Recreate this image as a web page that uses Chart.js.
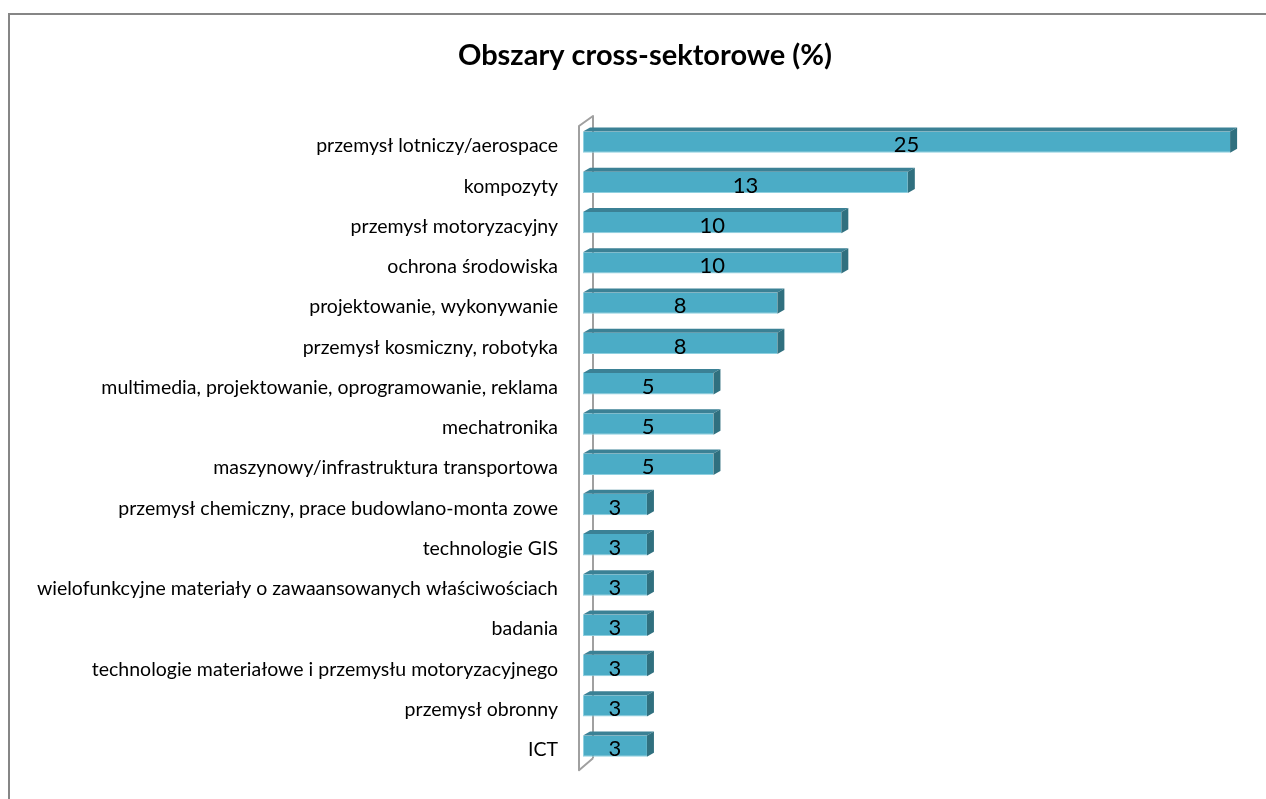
<!DOCTYPE html>
<html>
<head>
<meta charset="utf-8">
<title>Obszary cross-sektorowe</title>
<script src="https://cdn.jsdelivr.net/npm/chart.js@4.4.1/dist/chart.umd.min.js"></script>
<style>
  html, body { margin: 0; padding: 0; background: #ffffff; }
  #wrap { width: 1266px; height: 799px; }
</style>
</head>
<body>
<div id="wrap"><canvas id="chart" width="1266" height="799"></canvas></div>
<script>
// categories, top to bottom
const categories = [
  'przemysł lotniczy/aerospace',
  'kompozyty',
  'przemysł motoryzacyjny',
  'ochrona środowiska',
  'projektowanie, wykonywanie',
  'przemysł kosmiczny, robotyka',
  'multimedia, projektowanie, oprogramowanie, reklama',
  'mechatronika',
  'maszynowy/infrastruktura transportowa',
  'przemysł chemiczny, prace budowlano-monta zowe',
  'technologie GIS',
  'wielofunkcyjne materiały o zawaansowanych właściwościach',
  'badania',
  'technologie materiałowe i przemysłu motoryzacyjnego',
  'przemysł obronny',
  'ICT'
];

// share of answers in %, labels show them rounded
const shares = [25.3, 12.7, 10.1, 10.1, 7.6, 7.6, 5.1, 5.1, 5.1, 2.5, 2.5, 2.5, 2.5, 2.5, 2.5, 2.5];

const TITLE = 'Obszary cross-sektorowe (%)';
const FONT = "Lato, 'Open Sans', 'DejaVu Sans', sans-serif";
const FRONT = '#4bacc6';
const TOP = '#3b8195';
const SIDE = '#30707f';
const DX = 7, DY = 4;

// frame, title, side wall and the 3d faces of the bars
const bars3d = {
  id: 'bars3d',
  beforeDraw(chart) {
    const ctx = chart.ctx;
    ctx.save();
    ctx.strokeStyle = '#868686';
    ctx.lineWidth = 2;
    ctx.beginPath();
    ctx.moveTo(9, 799);
    ctx.lineTo(9, 14);
    ctx.lineTo(1266, 14);
    ctx.stroke();
    ctx.fillStyle = '#000000';
    ctx.font = 'bold 29px ' + FONT;
    ctx.textAlign = 'center';
    ctx.textBaseline = 'alphabetic';
    ctx.fillText(TITLE, 645, 65);
    ctx.restore();
  },
  beforeDatasetsDraw(chart) {
    const { ctx, chartArea: a } = chart;
    const fx = a.left - 4, bx = a.left + 10;
    ctx.save();
    ctx.strokeStyle = '#a0a0a0';
    ctx.lineWidth = 2;
    ctx.lineJoin = 'round';
    ctx.beginPath();
    ctx.moveTo(bx, a.bottom - 8);
    ctx.lineTo(bx, a.top - 6);
    ctx.lineTo(fx, a.top + 4);
    ctx.lineTo(fx, a.bottom + 4);
    ctx.lineTo(bx, a.bottom - 8);
    ctx.stroke();
    ctx.restore();
  },
  afterDatasetsDraw(chart) {
    const ctx = chart.ctx;
    const meta = chart.getDatasetMeta(0);
    ctx.save();
    meta.data.forEach((bar, i) => {
      const p = bar.getProps(['x', 'y', 'base', 'height'], true);
      const x0 = p.base, x1 = p.x;
      const top = p.y - p.height / 2, bottom = p.y + p.height / 2;
      // top face
      ctx.fillStyle = TOP;
      ctx.beginPath();
      ctx.moveTo(x0, top);
      ctx.lineTo(x0 + DX, top - DY);
      ctx.lineTo(x1 + DX, top - DY);
      ctx.lineTo(x1, top);
      ctx.closePath();
      ctx.fill();
      // right face
      ctx.fillStyle = SIDE;
      ctx.beginPath();
      ctx.moveTo(x1, top);
      ctx.lineTo(x1 + DX, top - DY);
      ctx.lineTo(x1 + DX, bottom - DY);
      ctx.lineTo(x1, bottom);
      ctx.closePath();
      ctx.fill();
      // value label, sitting on the lower edge of the front face
      ctx.fillStyle = '#000000';
      ctx.font = '22px ' + FONT;
      ctx.textAlign = 'center';
      ctx.textBaseline = 'alphabetic';
      ctx.fillText(String(Math.round(shares[i])), (x0 + x1) / 2, bottom - 0.5);
    });
    ctx.restore();
  }
};

new Chart(document.getElementById('chart'), {
  type: 'bar',
  data: {
    labels: categories,
    datasets: [{
      data: shares,
      backgroundColor: FRONT,
      borderColor: '#8fd0e0',
      borderWidth: { left: 1, bottom: 1, top: 0, right: 0 },
      borderSkipped: false,
      categoryPercentage: 1,
      barPercentage: 0.53
    }]
  },
  options: {
    indexAxis: 'y',
    responsive: false,
    animation: false,
    layout: { padding: { left: 0, right: 18, top: 122, bottom: 31 } },
    plugins: {
      legend: { display: false },
      tooltip: { enabled: false },
      title: { display: false }
    },
    scales: {
      x: {
        display: false,
        min: 0,
        max: 26
      },
      y: {
        grid: { display: false, drawTicks: false },
        border: { display: false },
        ticks: {
          color: '#000000',
          padding: 25,
          font: { family: FONT, size: 19.5, lineHeight: 0.4 },
          // empty first line pushes the label a few px below the bar centre
          callback(value) { return ['', this.getLabelForValue(value)]; }
        },
        afterFit(scale) { scale.width = 583; }
      }
    }
  },
  plugins: [bars3d]
});
</script>
</body>
</html>
